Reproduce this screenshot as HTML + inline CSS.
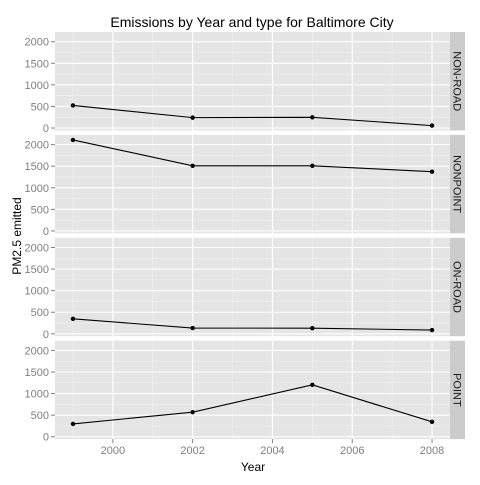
<!DOCTYPE html>
<html><head><meta charset="utf-8"><style>
body{margin:0;background:#fff}
svg text{font-family:"Liberation Sans",Arial,sans-serif}
</style></head><body>
<svg id="chart" width="480" height="480">
<text x="252" y="27" font-size="14" text-anchor="middle">Emissions by Year and type for Baltimore City</text>
<text x="253" y="471" font-size="12" text-anchor="middle">Year</text>
<text transform="translate(21,236) rotate(-90)" font-size="12" text-anchor="middle">PM2.5 emitted</text>
<g id="panels"></g>
</svg>
<script>
const types=["NON-ROAD","NONPOINT","ON-ROAD","POINT"];
const years=[1999,2002,2005,2008];
const nonroad=[522.9,240.8,248.9,55.8];
const nonpoint=[2107.6,1509.5,1509.5,1373.2];
const onroad=[346.8,134.3,130.4,88.3];
const pointS=[296.8,569.3,1202.0,345.0];
const series=[nonroad,nonpoint,onroad,pointS];
const yTicks=[0,500,1000,1500,2000];
const xTicks=[2000,2002,2004,2006,2008];
const NS="http://www.w3.org/2000/svg";
const g=document.getElementById('panels');
const L=55,R=450,T0=32,H=98.4,G=4.5;
const xMin=1998.55,xMax=2008.45,yMin=-55,yMax=2225;
const xs=v=>L+(v-xMin)/(xMax-xMin)*(R-L);
function mk(t,a,p){const e=document.createElementNS(NS,t);for(const k in a)e.setAttribute(k,a[k]);(p||g).appendChild(e);return e;}
types.forEach((tp,i)=>{
 const top=T0+i*(H+G),bot=top+H;
 const ys=v=>bot-(v-yMin)/(yMax-yMin)*H;
 const bg=mk('rect',{x:L,y:top,width:R-L,height:H,fill:'#e5e5e5'});
 
 
 for(let k=0;k<yTicks.length-1;k++){const v=(yTicks[k]+yTicks[k+1])/2;mk('line',{x1:L,x2:R,y1:ys(v),y2:ys(v),stroke:'#f2f2f2','stroke-width':0.6});}
 for(let k=0;k<xTicks.length+1;k++){const v=xTicks[0]-1+2*k;if(v>xMin&&v<xMax)mk('line',{x1:xs(v),x2:xs(v),y1:top,y2:bot,stroke:'#f2f2f2','stroke-width':0.6});}
 yTicks.forEach(v=>{mk('line',{x1:L,x2:R,y1:ys(v),y2:ys(v),stroke:'#fff','stroke-width':1.1});
  mk('line',{x1:L-4,x2:L,y1:ys(v),y2:ys(v),stroke:'#7f7f7f','stroke-width':1});
  const t=mk('text',{x:L-6,y:ys(v)+4,'font-size':11,'text-anchor':'end',fill:'#7f7f7f'});t.textContent=v;
  });
 xTicks.forEach(v=>mk('line',{x1:xs(v),x2:xs(v),y1:top,y2:bot,stroke:'#fff','stroke-width':1.1}));
 const s=series[i];
 const ln=mk('polyline',{points:s.map((v,j)=>xs(years[j])+','+ys(v)).join(' '),fill:'none',stroke:'#000','stroke-width':1.1});
 
 
 s.forEach((v,j)=>{const c=mk('circle',{cx:xs(years[j]),cy:ys(v),r:2.2,fill:'#000'});
  
  });
 const st=mk('rect',{x:R,y:top,width:15,height:H,fill:'#cccccc'});
 
 
 const tx=mk('text',{transform:`translate(${R+3.5},${top+H/2}) rotate(90)`,'font-size':11,'text-anchor':'middle',fill:'#1a1a1a'});
 tx.textContent=tp;
 
 
 if(i===types.length-1){xTicks.forEach(v=>{mk('line',{x1:xs(v),x2:xs(v),y1:bot,y2:bot+4,stroke:'#7f7f7f'});
  const t=mk('text',{x:xs(v),y:bot+15,'font-size':11,'text-anchor':'middle',fill:'#7f7f7f'});t.textContent=v;
  });}
});
</script>
</body></html>
